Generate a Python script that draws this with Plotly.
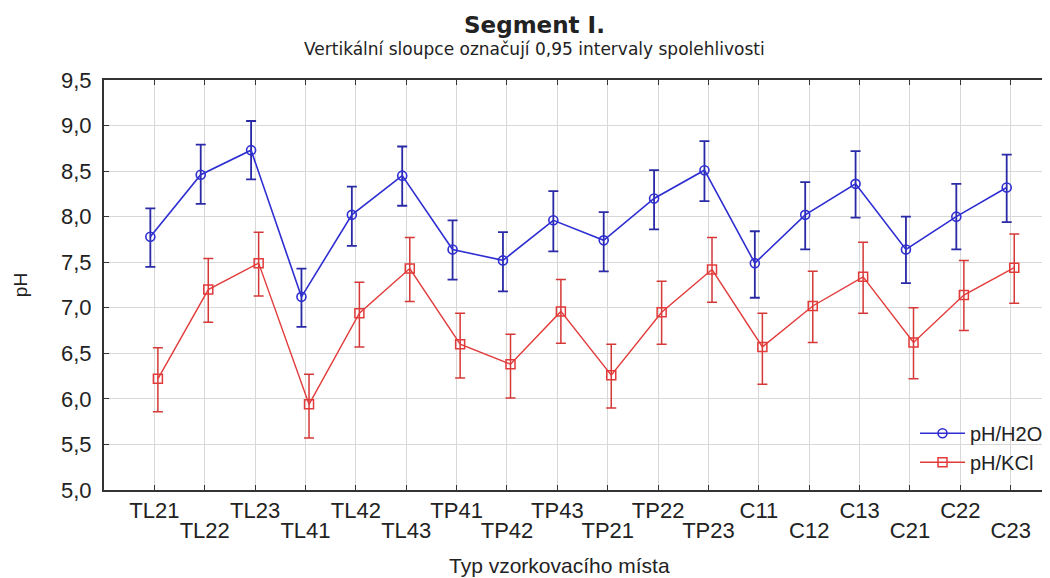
import plotly.graph_objects as go

categories = ["TL21", "TL22", "TL23", "TL41", "TL42", "TL43", "TP41", "TP42", "TP43",
              "TP21", "TP22", "TP23", "C11", "C12", "C13", "C21", "C22", "C23"]

ph_h2o = [7.78, 8.46, 8.73, 7.12, 8.02, 8.45, 7.64, 7.52, 7.96,
          7.74, 8.20, 8.51, 7.49, 8.02, 8.36, 7.64, 8.00, 8.32]
ph_h2o_upper = [8.09, 8.79, 9.05, 7.43, 8.33, 8.77, 7.96, 7.83, 8.28,
                8.05, 8.51, 8.83, 7.84, 8.38, 8.72, 8.00, 8.36, 8.68]
ph_h2o_lower = [7.45, 8.14, 8.41, 6.79, 7.68, 8.12, 7.31, 7.18, 7.62,
                7.40, 7.86, 8.17, 7.11, 7.64, 7.99, 7.27, 7.64, 7.94]

ph_kcl = [6.22, 7.20, 7.49, 5.94, 6.94, 7.43, 6.60, 6.38, 6.96,
          6.26, 6.95, 7.42, 6.57, 7.02, 7.34, 6.62, 7.14, 7.44]
ph_kcl_upper = [6.56, 7.54, 7.83, 6.27, 7.28, 7.77, 6.94, 6.71, 7.31,
                6.60, 7.29, 7.77, 6.94, 7.40, 7.72, 7.00, 7.52, 7.81]
ph_kcl_lower = [5.86, 6.84, 7.13, 5.57, 6.57, 7.07, 6.23, 6.01, 6.61,
                5.90, 6.60, 7.06, 6.16, 6.62, 6.94, 6.22, 6.75, 7.05]

y_ticks = [5.0, 5.5, 6.0, 6.5, 7.0, 7.5, 8.0, 8.5, 9.0, 9.5]

idx = list(range(len(categories)))
dodge_h2o = -0.08
dodge_kcl = 0.07

BLUE = "#2e2ed2"
BLUE_ERR = "#2a2aa6"
RED = "#e33a3a"
RED_ERR = "#d63838"
FONT = "Liberation Sans, Arial, sans-serif"

fig = go.Figure()

fig.add_trace(go.Scatter(
    x=[i + dodge_h2o for i in idx], y=ph_h2o, name="pH/H2O",
    mode="lines+markers",
    line=dict(color=BLUE, width=1.6),
    marker=dict(symbol="circle-open", size=9, color=BLUE, line=dict(width=1.6)),
    error_y=dict(type="data", symmetric=False,
                 array=[u - m for u, m in zip(ph_h2o_upper, ph_h2o)],
                 arrayminus=[m - l for m, l in zip(ph_h2o, ph_h2o_lower)],
                 color=BLUE_ERR, thickness=1.8, width=5),
))

fig.add_trace(go.Scatter(
    x=[i + dodge_kcl for i in idx], y=ph_kcl, name="pH/KCl",
    xaxis="x2", yaxis="y",
    mode="lines+markers",
    line=dict(color=RED, width=1.4),
    marker=dict(symbol="square-open", size=9, color=RED, line=dict(width=1.5)),
    error_y=dict(type="data", symmetric=False,
                 array=[u - m for u, m in zip(ph_kcl_upper, ph_kcl)],
                 arrayminus=[m - l for m, l in zip(ph_kcl, ph_kcl_lower)],
                 color=RED_ERR, thickness=1.5, width=5),
))

x_range = [-1, 17.74]

fig.update_layout(
    width=1042, height=570,
    margin=dict(l=96, r=0, t=72, b=88),
    paper_bgcolor="white", plot_bgcolor="white",
    separators=", ",
    font=dict(family=FONT, color="#222222"),
    showlegend=True,
    legend=dict(x=1.0, xanchor="right", y=0.02, yanchor="bottom",
                bgcolor="rgba(0,0,0,0)", font=dict(size=20, family=FONT),
                itemwidth=45, tracegroupgap=0),
    xaxis=dict(
        range=x_range, tickvals=idx,
        ticktext=[c if i % 2 == 0 else "" for i, c in enumerate(categories)],
        tickfont=dict(size=22), ticks="inside", ticklen=5, tickcolor="#333",
        showline=True, linecolor="#333", linewidth=2, mirror="ticks",
        showgrid=True, gridcolor="#d8d8d8", gridwidth=1, zeroline=False,
    ),
    xaxis2=dict(
        range=x_range, overlaying="x", side="bottom", matches="x",
        tickvals=[i for i in idx if i % 2 == 1],
        ticktext=[c for i, c in enumerate(categories) if i % 2 == 1],
        tickfont=dict(size=22), ticks="", showline=False, showgrid=False,
        zeroline=False, ticklabelstandoff=25,
    ),
    yaxis=dict(
        range=[5.0, 9.5], tickvals=y_ticks, tickformat=".1f",
        tickfont=dict(size=22), ticks="inside", ticklen=5, tickcolor="#333",
        showline=True, linecolor="#333", linewidth=2, mirror="ticks",
        showgrid=True, gridcolor="#d8d8d8", gridwidth=1, zeroline=False,
        ticklabelstandoff=6,
        title=dict(text="pH", font=dict(size=19), standoff=28),
    ),
    annotations=[
        dict(text="<b>Segment I.</b>", xref="paper", yref="paper",
             x=0.456, y=1.0, yanchor="middle", yshift=55, showarrow=False,
             font=dict(size=23, family="DejaVu Sans, sans-serif", color="#222")),
        dict(text="Vertikální sloupce označují 0,95 intervaly spolehlivosti",
             xref="paper", yref="paper", x=0.456, y=1.0, yanchor="middle",
             yshift=31, showarrow=False,
             font=dict(size=17, family="DejaVu Sans, sans-serif", color="#222")),
        dict(text="Typ vzorkovacího místa", xref="paper", yref="paper",
             x=0.483, y=0.0, yanchor="middle", yshift=-75, showarrow=False,
             font=dict(size=21, family=FONT, color="#222")),
    ],
)

fig.write_html("out.html")
